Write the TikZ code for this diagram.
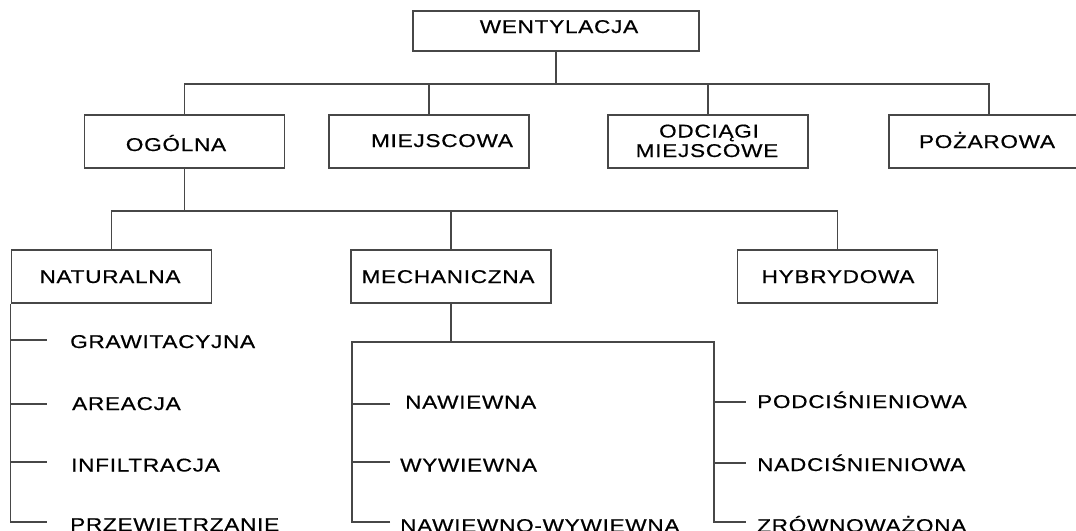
\documentclass[tikz,border=0pt]{standalone}
\usepackage{fontspec}
\setmainfont[FakeStretch=1.22,LetterSpace=4,FakeBold=0.6]{Liberation Sans}
\begin{document}
\begin{tikzpicture}[x=1pt,y=-1pt,
  every node/.style={font=\fontsize{18.5}{19}\selectfont, inner sep=0pt},
  box/.style={draw=black!72, line width=1.3pt, minimum width=200pt, minimum height=53pt},
  lbl/.style={anchor=base west},
  ctr/.style={anchor=base},
  conn/.style={draw=black!72, line width=1.1pt}]
\clip (0,0) rectangle (1076,530);
\fill[white] (0,0) rectangle (1076,530);
% level 1
\node[box, minimum width=286pt, minimum height=40pt] (went) at (556,31) {};
\node[ctr] (twent) at (559,33) {WENTYLACJA};
% level 2
\node[box] (ogolna) at (184.5,141.5) {};
\node[ctr] (togolna) at (176,151) {OGÓLNA};
\node[box] (miejsc) at (429,141.5) {};
\node[ctr] (tmiejsc) at (442,147) {MIEJSCOWA};
\node[box] (odciagi) at (708,141.5) {};
\node[ctr] (todc1) at (709,137.5) {ODCIĄGI};
\node[ctr] (todc2) at (707,157) {MIEJSCOWE};
\node[box] (pozar) at (989,141.5) {};
\node[ctr] (tpozar) at (987,148) {POŻAROWA};
% connectors level 1-2
\coordinate (bar1) at (556,84);
\draw[conn] (went.south) -- (bar1);
\draw[conn] (ogolna.north) |- (bar1) -| (pozar.north);
\draw[conn] (miejsc.north) -- (miejsc.north |- bar1);
\draw[conn] (odciagi.north) -- (odciagi.north |- bar1);
% level 3
\node[box] (natur) at (111.5,276.5) {};
\node[ctr] (tnatur) at (110,283) {NATURALNA};
\node[box] (mech) at (451,276.5) {};
\node[ctr] (tmech) at (448,283) {MECHANICZNA};
\node[box] (hybr) at (837.5,276.5) {};
\node[ctr] (thybr) at (838,283) {HYBRYDOWA};
\coordinate (bar2) at (184.5,211);
\draw[conn] (ogolna.south) -- (bar2);
\draw[conn] (natur.north) |- (bar2) -| (hybr.north);
\draw[conn] (mech.north) -- (mech.north |- bar2);
% natural list
\node[lbl] (grav) at (70,348) {GRAWITACYJNA};
\node[lbl] (area) at (72,410) {AREACJA};
\node[lbl] (infil) at (71,471.5) {INFILTRACJA};
\node[lbl] (przew) at (70,531) {PRZEWIETRZANIE};
\coordinate (n1) at (47,340);
\coordinate (n2) at (47,404);
\coordinate (n3) at (47,462);
\coordinate (n4) at (47,522);
\draw[conn] (natur.south west) |- (n4);
\draw[conn] (natur.south west |- n1) -- (n1);
\draw[conn] (natur.south west |- n2) -- (n2);
\draw[conn] (natur.south west |- n3) -- (n3);
% mechanical list
\coordinate (mL) at (352,342);
\coordinate (mR) at (714,342);
\coordinate (l1) at (390,404);
\coordinate (l2) at (390,462);
\coordinate (l3) at (390,522);
\coordinate (r1) at (746,402);
\coordinate (r2) at (746,463);
\coordinate (r3) at (746,522);
\draw[conn] (mech.south) -- (mech.south |- mL);
\draw[conn] (l3) -| (mL) -- (mR) |- (r3);
\draw[conn] (mL |- l1) -- (l1);
\draw[conn] (mL |- l2) -- (l2);
\draw[conn] (mR |- r1) -- (r1);
\draw[conn] (mR |- r2) -- (r2);
\node[lbl] (naw) at (405,408.5) {NAWIEWNA};
\node[lbl] (wyw) at (400,471.5) {WYWIEWNA};
\node[lbl] (nawwyw) at (400,532) {NAWIEWNO-WYWIEWNA};
\node[lbl] (podc) at (757,408) {PODCIŚNIENIOWA};
\node[lbl] (nadc) at (757,471) {NADCIŚNIENIOWA};
\node[lbl] (zrow) at (757,532) {ZRÓWNOWAŻONA};
\end{tikzpicture}
\end{document}
